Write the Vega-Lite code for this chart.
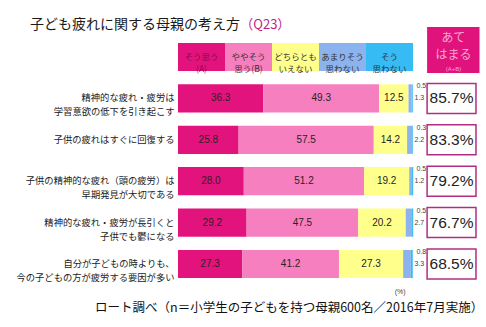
{
  "$schema": "https://vega.github.io/schema/vega-lite/v6.json",
  "autosize": {"type": "none"},
  "width": 305.5,
  "height": 248.4,
  "padding": {"left": 178, "top": 36.3, "right": 2.5, "bottom": 42.3},
  "background": "white",
  "config": {"view": {"stroke": null}, "font": "Noto Sans CJK JP"},
  "datasets": {
    "bars": [
      {"q": "精神的な疲れ・疲労は\n学習意欲の低下を引き起こす", "cat": "そう思う(A)", "k": 1, "v": 36.3},
      {"q": "精神的な疲れ・疲労は\n学習意欲の低下を引き起こす", "cat": "ややそう思う(B)", "k": 2, "v": 49.3},
      {"q": "精神的な疲れ・疲労は\n学習意欲の低下を引き起こす", "cat": "どちらともいえない", "k": 3, "v": 12.5},
      {"q": "精神的な疲れ・疲労は\n学習意欲の低下を引き起こす", "cat": "あまりそう思わない", "k": 4, "v": 1.3},
      {"q": "精神的な疲れ・疲労は\n学習意欲の低下を引き起こす", "cat": "そう思わない", "k": 5, "v": 0.5},
      {"q": "子供の疲れはすぐに回復する", "cat": "そう思う(A)", "k": 1, "v": 25.8},
      {"q": "子供の疲れはすぐに回復する", "cat": "ややそう思う(B)", "k": 2, "v": 57.5},
      {"q": "子供の疲れはすぐに回復する", "cat": "どちらともいえない", "k": 3, "v": 14.2},
      {"q": "子供の疲れはすぐに回復する", "cat": "あまりそう思わない", "k": 4, "v": 2.2},
      {"q": "子供の疲れはすぐに回復する", "cat": "そう思わない", "k": 5, "v": 0.3},
      {"q": "子供の精神的な疲れ（頭の疲労）は\n早期発見が大切である", "cat": "そう思う(A)", "k": 1, "v": 28.0},
      {"q": "子供の精神的な疲れ（頭の疲労）は\n早期発見が大切である", "cat": "ややそう思う(B)", "k": 2, "v": 51.2},
      {"q": "子供の精神的な疲れ（頭の疲労）は\n早期発見が大切である", "cat": "どちらともいえない", "k": 3, "v": 19.2},
      {"q": "子供の精神的な疲れ（頭の疲労）は\n早期発見が大切である", "cat": "あまりそう思わない", "k": 4, "v": 1.2},
      {"q": "子供の精神的な疲れ（頭の疲労）は\n早期発見が大切である", "cat": "そう思わない", "k": 5, "v": 0.5},
      {"q": "精神的な疲れ・疲労が長引くと\n子供でも鬱になる", "cat": "そう思う(A)", "k": 1, "v": 29.2},
      {"q": "精神的な疲れ・疲労が長引くと\n子供でも鬱になる", "cat": "ややそう思う(B)", "k": 2, "v": 47.5},
      {"q": "精神的な疲れ・疲労が長引くと\n子供でも鬱になる", "cat": "どちらともいえない", "k": 3, "v": 20.2},
      {"q": "精神的な疲れ・疲労が長引くと\n子供でも鬱になる", "cat": "あまりそう思わない", "k": 4, "v": 2.7},
      {"q": "精神的な疲れ・疲労が長引くと\n子供でも鬱になる", "cat": "そう思わない", "k": 5, "v": 0.5},
      {"q": "自分が子どもの時よりも、\n今の子どもの方が疲労する要因が多い", "cat": "そう思う(A)", "k": 1, "v": 27.3},
      {"q": "自分が子どもの時よりも、\n今の子どもの方が疲労する要因が多い", "cat": "ややそう思う(B)", "k": 2, "v": 41.2},
      {"q": "自分が子どもの時よりも、\n今の子どもの方が疲労する要因が多い", "cat": "どちらともいえない", "k": 3, "v": 27.3},
      {"q": "自分が子どもの時よりも、\n今の子どもの方が疲労する要因が多い", "cat": "あまりそう思わない", "k": 4, "v": 3.3},
      {"q": "自分が子どもの時よりも、\n今の子どもの方が疲労する要因が多い", "cat": "そう思わない", "k": 5, "v": 0.8}
    ],
    "header": [
      {"q": "_h", "cat": "そう思う(A)", "k": 1, "v": 20, "label": "そう思う\n(A)"},
      {"q": "_h", "cat": "ややそう思う(B)", "k": 2, "v": 20, "label": "ややそう\n思う(B)"},
      {"q": "_h", "cat": "どちらともいえない", "k": 3, "v": 20, "label": "どちらとも\nいえない"},
      {"q": "_h", "cat": "あまりそう思わない", "k": 4, "v": 20, "label": "あまりそう\n思わない"},
      {"q": "_h", "cat": "そう思わない", "k": 5, "v": 20, "label": "そう\n思わない"}
    ],
    "totals": [
      {"q": "精神的な疲れ・疲労は\n学習意欲の低下を引き起こす", "t": 0.857},
      {"q": "子供の疲れはすぐに回復する", "t": 0.833},
      {"q": "子供の精神的な疲れ（頭の疲労）は\n早期発見が大切である", "t": 0.792},
      {"q": "精神的な疲れ・疲労が長引くと\n子供でも鬱になる", "t": 0.767},
      {"q": "自分が子どもの時よりも、\n今の子どもの方が疲労する要因が多い", "t": 0.685}
    ]
  },
  "encoding": {
    "y": {
      "field": "q",
      "type": "nominal",
      "sort": null,
      "scale": {
        "domain": [
          "_h",
          "精神的な疲れ・疲労は\n学習意欲の低下を引き起こす",
          "子供の疲れはすぐに回復する",
          "子供の精神的な疲れ（頭の疲労）は\n早期発見が大切である",
          "精神的な疲れ・疲労が長引くと\n子供でも鬱になる",
          "自分が子どもの時よりも、\n今の子どもの方が疲労する要因が多い"
        ],
        "paddingInner": 0.32,
        "paddingOuter": 0.16
      },
      "axis": {
        "title": null,
        "domain": false,
        "ticks": false,
        "labelPadding": 4,
        "labelFont": "Noto Sans CJK JP",
        "labelFontSize": 9.3,
        "labelColor": "#222222",
        "labelLineHeight": 14,
        "labelLimit": 220,
        "labelExpr": "datum.value == '_h' ? '' : split(datum.value, '\\n')"
      }
    }
  },
  "layer": [
    {
      "data": {"name": "bars"},
      "mark": {"type": "bar", "strokeWidth": 0},
      "encoding": {
        "x": {"field": "v", "type": "quantitative", "stack": "zero", "scale": {"domain": [0, 130], "nice": false}, "axis": null},
        "color": {
          "field": "cat",
          "type": "nominal",
          "scale": {
            "domain": ["そう思う(A)", "ややそう思う(B)", "どちらともいえない", "あまりそう思わない", "そう思わない"],
            "range": ["#E3137D", "#F67FBF", "#FFFF8C", "#8DB3EE", "#36BBF4"]
          },
          "legend": null
        },
        "order": {"field": "k", "type": "quantitative"}
      }
    },
    {
      "data": {"name": "header"},
      "mark": {"type": "bar", "strokeWidth": 0},
      "encoding": {
        "x": {"field": "v", "type": "quantitative", "stack": "zero"},
        "color": {"field": "cat", "type": "nominal", "legend": null},
        "order": {"field": "k", "type": "quantitative"}
      }
    },
    {
      "data": {"name": "bars"},
      "transform": [{"filter": "datum.k <= 3"}],
      "mark": {"type": "text", "font": "Liberation Sans", "fontSize": 10, "color": "#2a2226"},
      "encoding": {
        "x": {"field": "v", "type": "quantitative", "stack": "zero", "bandPosition": 0.5},
        "order": {"field": "k", "type": "quantitative"},
        "text": {"field": "v", "type": "quantitative", "format": ".1f"}
      }
    },
    {
      "data": {"name": "header"},
      "mark": {"type": "text", "font": "Noto Sans CJK JP", "fontSize": 8.5, "lineBreak": "\n", "lineHeight": 12},
      "encoding": {
        "x": {"field": "v", "type": "quantitative", "stack": "zero", "bandPosition": 0.5},
        "order": {"field": "k", "type": "quantitative"},
        "text": {"field": "label"},
        "color": {"condition": {"test": "datum.k == 1", "value": "#8E0A46"}, "value": "#333333"}
      }
    },
    {
      "data": {"name": "bars"},
      "transform": [{"filter": "datum.k == 4"}],
      "mark": {"type": "text", "font": "Liberation Sans", "fontSize": 7, "align": "left", "dx": 1.5, "color": "#444444"},
      "encoding": {
        "x": {"datum": 100},
        "text": {"field": "v", "type": "quantitative", "format": ".1f"}
      }
    },
    {
      "data": {"name": "bars"},
      "transform": [{"filter": "datum.k == 5"}],
      "mark": {"type": "text", "font": "Liberation Sans", "fontSize": 7, "align": "left", "dx": 3.5, "yOffset": -12, "color": "#444444"},
      "encoding": {
        "x": {"datum": 100},
        "text": {"field": "v", "type": "quantitative", "format": ".1f"}
      }
    },
    {
      "data": {"name": "totals"},
      "mark": {"type": "bar", "fill": "white", "stroke": "#B22C83", "strokeWidth": 1.5, "height": 30},
      "encoding": {
        "x": {"datum": 106},
        "x2": {"datum": 126.8}
      }
    },
    {
      "data": {"name": "totals"},
      "mark": {"type": "text", "font": "Liberation Sans", "fontSize": 15.5, "color": "#222222"},
      "encoding": {
        "x": {"datum": 116.4},
        "text": {"field": "t", "type": "quantitative", "format": ".1%"}
      }
    },
    {
      "data": {"values": [{"q": "_h"}]},
      "mark": {"type": "bar", "fill": "#E0127C", "height": 46, "yOffset": -7},
      "encoding": {
        "x": {"datum": 106},
        "x2": {"datum": 128.3}
      }
    },
    {
      "data": {"values": [{"q": "_h", "label": "あて"}]},
      "mark": {"type": "text", "font": "Noto Sans CJK JP", "fontSize": 12, "yOffset": -19, "color": "#F7A6D0"},
      "encoding": {
        "x": {"datum": 117.2},
        "text": {"field": "label"}
      }
    },
    {
      "data": {"values": [{"q": "_h", "label": "はまる"}]},
      "mark": {"type": "text", "font": "Noto Sans CJK JP", "fontSize": 12, "yOffset": -2.5, "color": "#F7A6D0"},
      "encoding": {
        "x": {"datum": 117.2},
        "text": {"field": "label"}
      }
    },
    {
      "data": {"values": [{"q": "_h", "label": "(A+B)"}]},
      "mark": {"type": "text", "font": "Liberation Sans", "fontSize": 6, "yOffset": 11.5, "color": "#F7A6D0"},
      "encoding": {
        "x": {"datum": 117.2},
        "text": {"field": "label"}
      }
    },
    {
      "data": {"values": [{"q": "_h", "label": "子ども疲れに関する母親の考え方"}]},
      "mark": {"type": "text", "font": "Noto Sans CJK JP", "fontSize": 14, "align": "left", "yOffset": -32, "color": "#1a1a1a"},
      "encoding": {
        "x": {"datum": -63},
        "text": {"field": "label"}
      }
    },
    {
      "data": {"values": [{"q": "_h", "label": "（Q23）"}]},
      "mark": {"type": "text", "font": "Noto Sans CJK JP", "fontSize": 13, "align": "left", "yOffset": -32, "color": "#C21C86"},
      "encoding": {
        "x": {"datum": 26.5},
        "text": {"field": "label"}
      }
    },
    {
      "data": {"values": [{"q": "_h", "label": "ロート調べ（n＝小学生の子どもを持つ母親600名／2016年7月実施）"}]},
      "mark": {"type": "text", "font": "Noto Sans CJK JP", "fontSize": 12.5, "align": "left", "yOffset": 251, "color": "#111111"},
      "encoding": {
        "x": {"datum": -35.3},
        "text": {"field": "label"}
      }
    },
    {
      "data": {"values": [{"q": "_h", "label": "(%)"}]},
      "mark": {"type": "text", "font": "Liberation Sans", "fontSize": 7, "yOffset": 235, "color": "#444444"},
      "encoding": {
        "x": {"datum": 94.5},
        "text": {"field": "label"}
      }
    }
  ]
}
